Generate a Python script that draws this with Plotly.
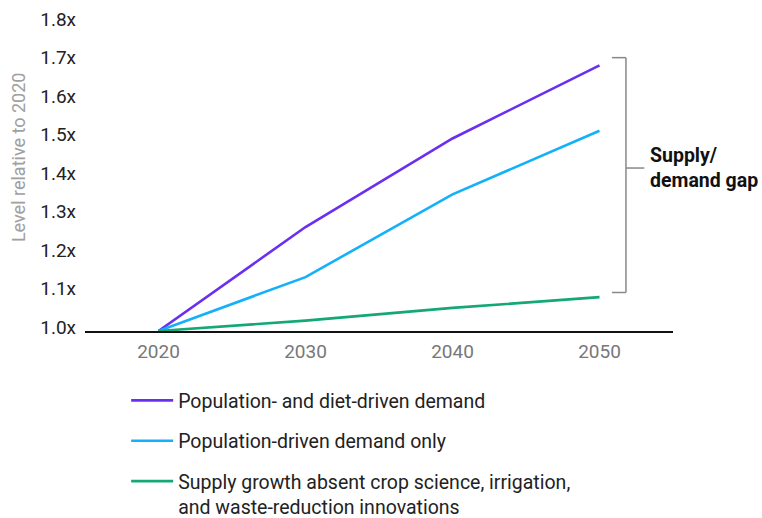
import plotly.graph_objects as go

years = [2020, 2030, 2040, 2050]
diet_demand = [1.0, 1.27, 1.50, 1.69]
pop_demand = [1.0, 1.14, 1.355, 1.52]
supply = [1.0, 1.027, 1.06, 1.088]

series_names = [
    "Population- and diet-driven demand",
    "Population-driven demand only",
    "Supply growth absent crop science, irrigation,<br>and waste-reduction innovations",
]
colors = ["#6a2ff0", "#14b1fb", "#14a876"]
y_ticks = [1.0, 1.1, 1.2, 1.3, 1.4, 1.5, 1.6, 1.7, 1.8]
y_tick_text = [f"{v:.1f}x" for v in y_ticks]
x_ticks = [2020, 2030, 2040, 2050]

fig = go.Figure()
for i, (vals, name, c) in enumerate(zip([diet_demand, pop_demand, supply], series_names, colors)):
    fig.add_trace(go.Scatter(
        x=years, y=vals, mode="lines", name=name,
        line=dict(color=c, width=2.6),
        legendgroup=f"g{i}",
    ))

# bracket for supply/demand gap
top = max(diet_demand) + 0.02
bot = supply[-1] + 0.012
xb0, xb1, xb2 = 2050.85, 2051.8, 2053.05
bracket_color = "#888888"
fig.add_shape(type="line", x0=xb0, x1=xb1, y0=top, y1=top, line=dict(color=bracket_color, width=1.5))
fig.add_shape(type="line", x0=xb0, x1=xb1, y0=bot, y1=bot, line=dict(color=bracket_color, width=1.5))
fig.add_shape(type="line", x0=xb1, x1=xb1, y0=bot, y1=top, line=dict(color=bracket_color, width=1.5))
mid = bot + 0.53 * (top - bot)
fig.add_shape(type="line", x0=xb1, x1=xb2, y0=mid, y1=mid, line=dict(color=bracket_color, width=1.5))
fig.add_annotation(x=xb2 + 0.25, y=mid, xref="x", yref="y", text="<b>Supply/<br>demand gap</b>",
                   showarrow=False, xanchor="left", yanchor="middle", align="left",
                   font=dict(family="Roboto", size=19.5, color="#111111"))

# y-axis title
fig.add_annotation(x=-0.112, y=0.565, xref="paper", yref="paper", text="Level relative to 2020",
                   showarrow=False, textangle=-90, xanchor="center", yanchor="middle",
                   font=dict(family="Roboto", size=18, color="#a0a0a0"))

fig.update_layout(
    width=762, height=518,
    margin=dict(l=85, r=89, t=23, b=187, autoexpand=False),
    paper_bgcolor="white", plot_bgcolor="white",
    font=dict(family="Roboto", size=19, color="#222222"),
    showlegend=True,
    legend=dict(x=0.07, y=-0.163, xanchor="left", yanchor="top",
                font=dict(family="Roboto", size=19.5, color="#222222"),
                tracegroupgap=12, valign="top", itemwidth=42, bgcolor="rgba(0,0,0,0)",
                borderwidth=0),
    xaxis=dict(range=[2015, 2055], tickvals=x_ticks, ticktext=[str(v) for v in x_ticks],
               showgrid=False, zeroline=False, showline=True, linecolor="#111111", linewidth=1.5,
               ticks="", tickfont=dict(family="Roboto", size=19, color="#777777"),
               ticklabelstandoff=2),
    yaxis=dict(range=[1.0, 1.8], tickvals=y_ticks, ticktext=y_tick_text,
               showgrid=False, zeroline=False, showline=False, ticks="",
               tickfont=dict(family="Roboto", size=19, color="#222222"),
               ticklabelstandoff=8, ticklabelshift=-4),
)

fig.write_html("out.html")
